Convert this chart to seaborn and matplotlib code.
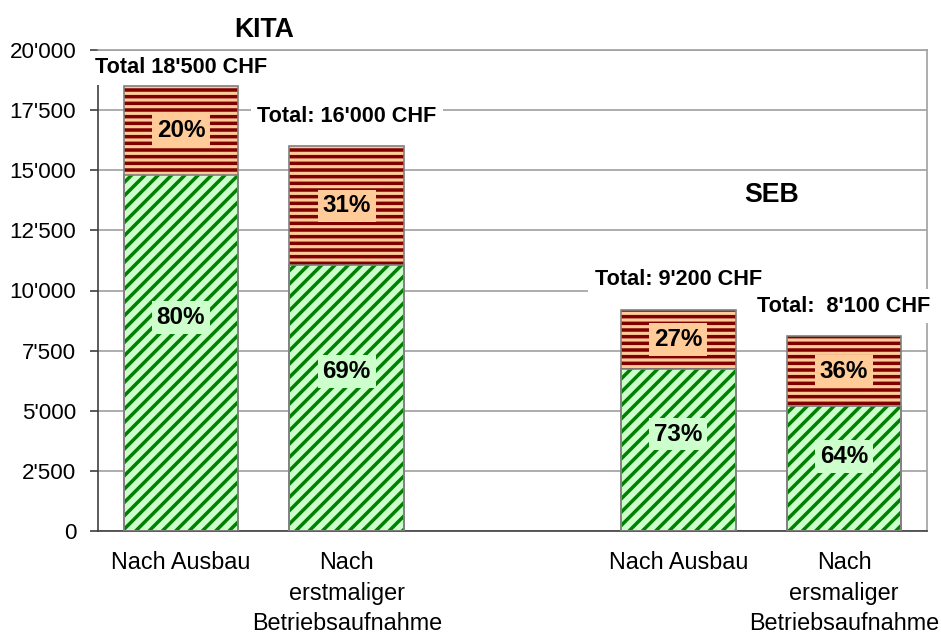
import pandas as pd
import seaborn as sns
import matplotlib.pyplot as plt

# slots on the category axis (one empty slot separates the two groups)
slots = ["kita_ausbau", "kita_betrieb", "leer", "seb_ausbau", "seb_betrieb"]
slot_labels = ["Nach Ausbau", "Nach\nerstmaliger\nBetriebsaufnahme", "",
               "Nach Ausbau", "Nach\nersmaliger\nBetriebsaufnahme"]
bar_ids = ["kita_ausbau", "kita_betrieb", "seb_ausbau", "seb_betrieb"]
totals = [18500, 16000, 9200, 8100]
green_share = [80, 69, 73, 64]
red_share = [20, 31, 27, 36]
total_labels = ["Total 18'500 CHF", "Total: 16'000 CHF",
                "Total: 9'200 CHF", "Total:  8'100 CHF"]
y_ticks = [0, 2500, 5000, 7500, 10000, 12500, 15000, 17500, 20000]

df = pd.DataFrame({"id": bar_ids, "total": totals, "green_share": green_share})
df["green"] = df["total"] * df["green_share"] / 100

sns.set_theme(style="ticks")
plt.rcParams["font.family"] = ["Liberation Sans", "DejaVu Sans"]
plt.rcParams["text.color"] = "black"
plt.rcParams["xtick.labelcolor"] = "black"
plt.rcParams["ytick.labelcolor"] = "black"
plt.rcParams["hatch.linewidth"] = 2.1

DPI = 120
fig = plt.figure(figsize=(941 / DPI, 639 / DPI), dpi=DPI)
ax = fig.add_axes([98 / 941, 1 - 531 / 639, (927 - 98) / 941, (531 - 50) / 639])

W = 0.69
common = dict(data=df, x="id", order=slots, saturation=1, width=W,
              errorbar=None, ax=ax)
# red part = whole bar, green part drawn over it
sns.barplot(y="total", color="#ffcc99", hatch="---", edgecolor="#800000",
            linewidth=0, zorder=2, **common)
sns.barplot(y="green", color="#ccffcc", hatch="///", edgecolor="#008000",
            linewidth=0, zorder=2, **common)
# grey outlines
for col in ["total", "green"]:
    sns.barplot(y=col, fill=False, color="#808080", linewidth=1.0, zorder=3,
                **common)

for i, bid in enumerate(bar_ids):
    x = slots.index(bid)
    t = totals[i]
    g = t * green_share[i] / 100
    ax.text(x, g + (t - g) / 2, f"{red_share[i]}%", ha="center", va="center",
            fontsize=14.5, fontweight="bold", zorder=5,
            bbox=dict(boxstyle="square,pad=0.2", fc="#ffcc99", ec="none"))
    ax.text(x, g * 0.6, f"{green_share[i]}%", ha="center", va="center",
            fontsize=14.5, fontweight="bold", zorder=5,
            bbox=dict(boxstyle="square,pad=0.2", fc="#ccffcc", ec="none"))
    ax.annotate(total_labels[i], (x, t), xytext=(0, 11 if i == 0 else 18),
                textcoords="offset points", ha="center", va="center",
                fontsize=13, fontweight="bold", zorder=6,
                annotation_clip=False,
                bbox=dict(boxstyle="square,pad=0.3", fc="white", ec="none"))

ax.text(0.5, 20830, "KITA", ha="center", va="center", fontsize=16,
        fontweight="bold", clip_on=False)
ax.text(3.56, 13970, "SEB", ha="center", va="center", fontsize=16,
        fontweight="bold")

ax.set_xlim(-0.5, 4.5)
ax.set_ylim(0, 20000)
ax.set_yticks(y_ticks)
ax.set_yticklabels([f"{v:,}".replace(",", "'") for v in y_ticks])
ax.set_xticks(range(len(slots)))
ax.set_xticklabels(slot_labels, linespacing=1.42)
ax.set_xlabel("")
ax.set_ylabel("")
ax.tick_params(axis="y", length=5, width=1, pad=8, labelsize=13.4,
               color="#404040")
ax.tick_params(axis="x", length=0, pad=12, labelsize=14)

ax.yaxis.grid(True, color="#a0a0a0", linewidth=1)
ax.set_axisbelow(True)
for side in ["left", "bottom"]:
    ax.spines[side].set_color("#404040")
    ax.spines[side].set_linewidth(1)
for side in ["right", "top"]:
    ax.spines[side].set_visible(True)
    ax.spines[side].set_color("#a0a0a0")
    ax.spines[side].set_linewidth(1)

fig.savefig("out.png", dpi=DPI)
